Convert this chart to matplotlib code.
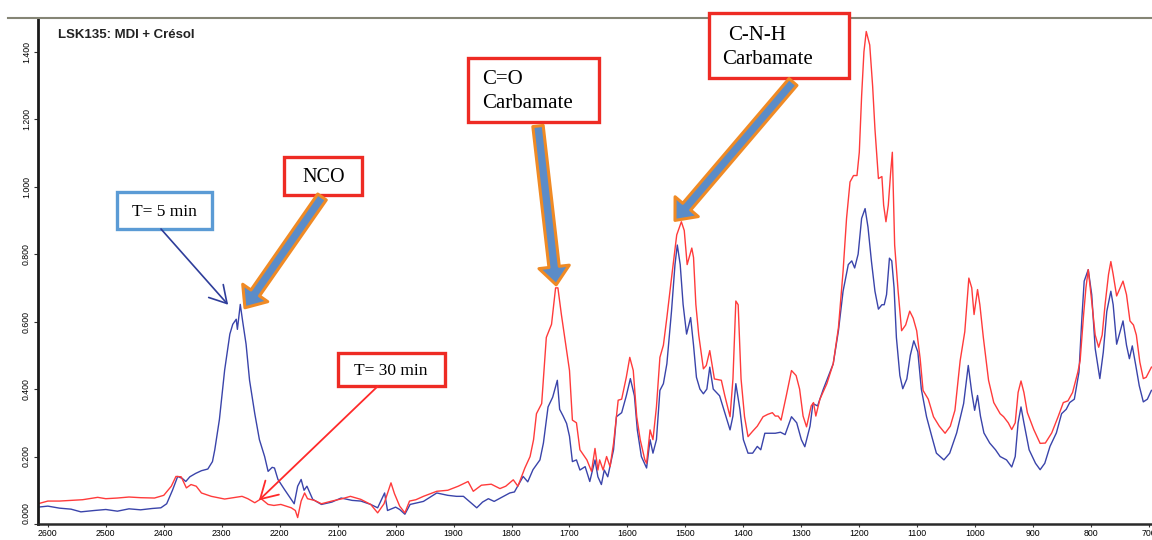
import matplotlib
matplotlib.use('Agg')
import matplotlib.pyplot as plt
from matplotlib.patches import Rectangle, FancyArrowPatch

# Spectre IR, LSK135 : MDI + crésol, prélèvements à 5 min et 30 min
nombre_onde_5 = [2617, 2600, 2580, 2560, 2543, 2520, 2500, 2480, 2460, 2440, 2420, 2405,
                 2395, 2385, 2376, 2368, 2362, 2355, 2345, 2335, 2324, 2316, 2312, 2304,
                 2295, 2286, 2281, 2275, 2273, 2268, 2264, 2258, 2252, 2243, 2235, 2226,
                 2220, 2213, 2209, 2203, 2192, 2180, 2175, 2169, 2163, 2158, 2153, 2143,
                 2128, 2110, 2094, 2075, 2060, 2043, 2031, 2019, 2014, 2000, 1993, 1984,
                 1975, 1965, 1952, 1929, 1910, 1895, 1883, 1860, 1850, 1840, 1830, 1803,
                 1795, 1780, 1772, 1763, 1751, 1745, 1737, 1729, 1721, 1717, 1711, 1705,
                 1700, 1695, 1688, 1682, 1673, 1665, 1656, 1651, 1645, 1640, 1634, 1624,
                 1619, 1610, 1602, 1595, 1588, 1583, 1576, 1567, 1561, 1556, 1550, 1544,
                 1538, 1532, 1524, 1518, 1514, 1509, 1504, 1498, 1491, 1486, 1481, 1475,
                 1469, 1463, 1458, 1452, 1441, 1432, 1423, 1418, 1413, 1406, 1400, 1392,
                 1384, 1376, 1370, 1363, 1345, 1336, 1328, 1317, 1308, 1300, 1294, 1285,
                 1280, 1272, 1262, 1254, 1245, 1236, 1228, 1219, 1213, 1208, 1202, 1196,
                 1190, 1185, 1179, 1173, 1167, 1161, 1157, 1153, 1148, 1144, 1140, 1136,
                 1130, 1125, 1118, 1112, 1106, 1099, 1093, 1084, 1075, 1067, 1054, 1044,
                 1032, 1020, 1012, 1006, 1001, 996, 991, 985, 975, 965, 957, 946,
                 937, 931, 926, 921, 916, 907, 896, 888, 880, 871, 860, 851,
                 843, 837, 829, 821, 816, 812, 805, 799, 793, 785, 779, 773,
                 766, 762, 756, 750, 745, 739, 734, 729, 723, 717, 710, 703, 696]
absorbance_5 = [0.050, 0.053, 0.047, 0.044, 0.036, 0.040, 0.043, 0.038, 0.045, 0.042, 0.046, 0.048,
                0.060, 0.100, 0.141, 0.135, 0.126, 0.140, 0.150, 0.158, 0.163, 0.185, 0.220, 0.310,
                0.456, 0.563, 0.592, 0.607, 0.577, 0.651, 0.602, 0.533, 0.426, 0.327, 0.250, 0.200,
                0.156, 0.168, 0.166, 0.132, 0.103, 0.073, 0.060, 0.112, 0.132, 0.100, 0.112, 0.073,
                0.058, 0.065, 0.077, 0.070, 0.068, 0.058, 0.048, 0.092, 0.040, 0.050, 0.043, 0.029,
                0.058, 0.062, 0.067, 0.092, 0.085, 0.082, 0.082, 0.048, 0.065, 0.075, 0.067, 0.092,
                0.095, 0.141, 0.125, 0.161, 0.190, 0.240, 0.347, 0.376, 0.426, 0.340, 0.320, 0.298,
                0.260, 0.185, 0.190, 0.160, 0.170, 0.126, 0.190, 0.140, 0.117, 0.160, 0.140, 0.220,
                0.318, 0.330, 0.380, 0.431, 0.380, 0.279, 0.200, 0.166, 0.250, 0.210, 0.250, 0.396,
                0.416, 0.475, 0.631, 0.769, 0.827, 0.769, 0.651, 0.563, 0.612, 0.530, 0.435, 0.400,
                0.386, 0.400, 0.465, 0.400, 0.380, 0.330, 0.279, 0.320, 0.416, 0.340, 0.250, 0.210,
                0.210, 0.230, 0.220, 0.269, 0.269, 0.272, 0.265, 0.318, 0.300, 0.250, 0.229, 0.290,
                0.357, 0.350, 0.400, 0.435, 0.475, 0.573, 0.690, 0.769, 0.780, 0.759, 0.800, 0.906,
                0.935, 0.880, 0.778, 0.690, 0.637, 0.650, 0.650, 0.680, 0.788, 0.780, 0.700, 0.553,
                0.440, 0.401, 0.430, 0.500, 0.543, 0.510, 0.400, 0.318, 0.260, 0.210, 0.190, 0.210,
                0.270, 0.357, 0.470, 0.390, 0.337, 0.381, 0.320, 0.270, 0.240, 0.220, 0.200, 0.190,
                0.169, 0.200, 0.300, 0.347, 0.300, 0.220, 0.180, 0.161, 0.180, 0.230, 0.270, 0.327,
                0.340, 0.360, 0.370, 0.450, 0.610, 0.720, 0.754, 0.680, 0.520, 0.431, 0.510, 0.630,
                0.690, 0.650, 0.533, 0.570, 0.602, 0.530, 0.490, 0.528, 0.470, 0.410, 0.362, 0.370, 0.396]

nombre_onde_30 = [2617, 2600, 2580, 2560, 2540, 2514, 2500, 2480, 2460, 2440, 2416, 2400,
                  2387, 2379, 2370, 2361, 2353, 2344, 2335, 2318, 2295, 2280, 2265, 2255,
                  2243, 2232, 2220, 2210, 2198, 2180, 2173, 2169, 2163, 2157, 2152, 2140,
                  2128, 2110, 2092, 2078, 2060, 2043, 2031, 2020, 2008, 2002, 1993, 1984,
                  1976, 1965, 1952, 1929, 1910, 1892, 1875, 1866, 1852, 1835, 1820, 1810,
                  1797, 1789, 1777, 1768, 1762, 1757, 1748, 1740, 1731, 1724, 1720, 1714,
                  1705, 1700, 1695, 1688, 1682, 1670, 1662, 1656, 1651, 1648, 1642, 1636,
                  1630, 1624, 1616, 1610, 1602, 1596, 1590, 1584, 1578, 1570, 1567, 1561,
                  1556, 1550, 1544, 1538, 1532, 1524, 1515, 1507, 1502, 1497, 1492, 1489,
                  1486, 1482, 1477, 1469, 1464, 1458, 1450, 1438, 1432, 1423, 1418, 1413,
                  1409, 1404, 1398, 1392, 1384, 1376, 1366, 1358, 1350, 1345, 1340, 1335,
                  1326, 1317, 1309, 1303, 1297, 1291, 1283, 1279, 1275, 1268, 1256, 1245,
                  1236, 1228, 1222, 1216, 1210, 1204, 1200, 1196, 1192, 1188, 1182, 1177,
                  1173, 1167, 1161, 1158, 1154, 1150, 1146, 1143, 1139, 1133, 1127, 1120,
                  1113, 1107, 1101, 1095, 1090, 1081, 1072, 1062, 1052, 1043, 1035, 1026,
                  1018, 1011, 1006, 1002, 996, 992, 986, 977, 968, 957, 951, 943,
                  937, 931, 926, 921, 916, 910, 899, 888, 879, 868, 857, 848,
                  840, 832, 823, 819, 813, 809, 805, 799, 793, 787, 781, 776,
                  770, 766, 762, 756, 750, 745, 739, 733, 727, 722, 716, 710, 705, 696]
absorbance_30 = [0.060, 0.068, 0.068, 0.070, 0.072, 0.079, 0.075, 0.077, 0.080, 0.078, 0.077, 0.085,
                 0.112, 0.141, 0.140, 0.107, 0.117, 0.112, 0.092, 0.082, 0.074, 0.078, 0.082, 0.075,
                 0.063, 0.075, 0.058, 0.055, 0.058, 0.048, 0.040, 0.019, 0.068, 0.092, 0.075, 0.070,
                 0.060, 0.068, 0.075, 0.082, 0.073, 0.058, 0.033, 0.060, 0.122, 0.090, 0.053, 0.033,
                 0.068, 0.072, 0.082, 0.097, 0.100, 0.112, 0.126, 0.097, 0.115, 0.118, 0.105, 0.112,
                 0.131, 0.112, 0.166, 0.200, 0.250, 0.327, 0.357, 0.553, 0.592, 0.700, 0.700, 0.621,
                 0.514, 0.455, 0.308, 0.300, 0.220, 0.190, 0.156, 0.224, 0.160, 0.190, 0.160, 0.200,
                 0.170, 0.239, 0.367, 0.370, 0.435, 0.494, 0.455, 0.318, 0.250, 0.190, 0.180, 0.279,
                 0.250, 0.347, 0.494, 0.530, 0.612, 0.729, 0.857, 0.896, 0.870, 0.769, 0.800, 0.818,
                 0.790, 0.651, 0.560, 0.460, 0.470, 0.514, 0.430, 0.426, 0.380, 0.318, 0.430, 0.661,
                 0.650, 0.430, 0.318, 0.259, 0.275, 0.290, 0.318, 0.325, 0.330, 0.320, 0.320, 0.308,
                 0.380, 0.455, 0.440, 0.400, 0.320, 0.288, 0.350, 0.360, 0.320, 0.370, 0.416, 0.475,
                 0.582, 0.749, 0.906, 1.014, 1.033, 1.033, 1.102, 1.269, 1.400, 1.460, 1.420, 1.298,
                 1.171, 1.024, 1.030, 0.945, 0.896, 0.945, 1.040, 1.102, 0.827, 0.690, 0.573, 0.590,
                 0.631, 0.610, 0.573, 0.490, 0.396, 0.370, 0.318, 0.290, 0.269, 0.290, 0.337, 0.484,
                 0.570, 0.729, 0.700, 0.621, 0.695, 0.650, 0.553, 0.426, 0.360, 0.327, 0.318, 0.300,
                 0.280, 0.300, 0.390, 0.424, 0.390, 0.330, 0.280, 0.239, 0.240, 0.270, 0.318, 0.360,
                 0.365, 0.390, 0.450, 0.484, 0.621, 0.700, 0.754, 0.660, 0.560, 0.524, 0.560, 0.650,
                 0.740, 0.778, 0.740, 0.676, 0.700, 0.720, 0.680, 0.602, 0.590, 0.560, 0.480, 0.431, 0.435, 0.465]

graduations_x = list(range(2600, 600, -100))
graduations_y = [0.0, 0.2, 0.4, 0.6, 0.8, 1.0, 1.2, 1.4]

W, H = 1152, 540
fig = plt.figure(figsize=(W / 100, H / 100), dpi=100)
ax = fig.add_axes([38 / W, 16 / H, 1114 / W, 506 / H])

ax.plot(nombre_onde_5, absorbance_5, color='#3a44aa', lw=1.0)
ax.plot(nombre_onde_30, absorbance_30, color='#ff3b3b', lw=1.0)

ax.set_xlim(2617, 695)
ax.set_ylim(0.003, 1.5)
ax.set_xticks(graduations_x)
ax.set_xticklabels([str(v) for v in graduations_x], fontsize=6.3, family='Liberation Sans')
ax.set_yticks(graduations_y)
ax.set_yticklabels([f'{v:.3f}' for v in graduations_y], fontsize=6.3,
                   family='Liberation Sans', rotation=90, va='center')
# le 0.000 reste au-dessus de l'axe horizontal
ax.get_yticklabels()[0].set_va('bottom')
ax.tick_params(axis='x', length=2.5, width=0.8, pad=1, color='#333333')
ax.tick_params(axis='y', length=3, width=0.8, pad=2, color='#333333')
for s in ['top', 'right']:
    ax.spines[s].set_visible(False)
ax.spines['left'].set_linewidth(2.0)
ax.spines['left'].set_color('#1a1a1a')
ax.spines['bottom'].set_linewidth(1.8)
ax.spines['bottom'].set_color('#2a2a2a')

# calque en pixels pour les encadrés et les flèches
ov = fig.add_axes([0, 0, 1, 1], facecolor='none')
ov.set_xlim(0, W)
ov.set_ylim(H, 0)
ov.axis('off')


def en_pixels(nombre_onde, valeur):
    return tuple(ov.transData.inverted().transform(ax.transData.transform((nombre_onde, valeur))))


ov.plot([8, W], [18, 18], color='#858575', lw=1.5)
ov.text(58, 35, 'LSK135: MDI + Crésol', fontsize=9.5, fontweight='bold',
        family='Liberation Sans', va='center', color='#222222')

rouge = '#ee2b24'
bleu_cadre = '#5b9bd5'
serif = 'Liberation Serif'


def cadre(x0, y0, x1, y1, couleur):
    ov.add_patch(Rectangle((x0, y0), x1 - x0, y1 - y0, fill=True, fc='white',
                           ec=couleur, lw=2.4, zorder=3))


cadre(117, 192, 212, 229, bleu_cadre)
ov.text(164, 212, 'T= 5 min', fontsize=12.5, family=serif, ha='center', va='center', zorder=4)

cadre(284, 157, 362, 195, rouge)
ov.text(324, 178, 'NCO', fontsize=14.5, family=serif, ha='center', va='center', zorder=4)

cadre(338, 353, 445, 386, rouge)
ov.text(391, 371, 'T= 30 min', fontsize=12.5, family=serif, ha='center', va='center', zorder=4)

cadre(468, 58, 599, 122, rouge)
ov.text(482, 80, 'C=O', fontsize=15, family=serif, ha='left', va='center', zorder=4)
ov.text(482, 104, 'Carbamate', fontsize=15, family=serif, ha='left', va='center', zorder=4)

cadre(709, 13, 849, 78, rouge)
ov.text(728, 35, 'C-N-H', fontsize=15, family=serif, ha='left', va='center', zorder=4)
ov.text(722, 60, 'Carbamate', fontsize=15, family=serif, ha='left', va='center', zorder=4)

# flèches épaisses bleues bordées d'orange
style_epais = 'simple,head_length=1.3,head_width=2.2,tail_width=0.75'
for depart, cible in [((322, 197), (2260, 0.641)),
                      ((538, 126), (1723, 0.709)),
                      ((793, 82), (1518, 0.900))]:
    ov.add_patch(FancyArrowPatch(depart, en_pixels(*cible), arrowstyle=style_epais,
                                 mutation_scale=10, fc='#5b8cc8', ec='#f08a24', lw=2.2,
                                 shrinkA=0, shrinkB=0, zorder=5))

# flèches fines vers les deux courbes
ov.add_patch(FancyArrowPatch((161, 229), en_pixels(2289, 0.650),
                             arrowstyle='->,head_length=0.6,head_width=0.35', mutation_scale=20,
                             color='#2e3d9a', lw=1.2, shrinkA=0, shrinkB=0, zorder=5))
ov.add_patch(FancyArrowPatch((378, 386), en_pixels(2236, 0.070),
                             arrowstyle='->,head_length=0.6,head_width=0.35', mutation_scale=20,
                             color='#ff2a2a', lw=1.3, shrinkA=0, shrinkB=0, zorder=5))

fig.savefig('out.png', dpi=100)
